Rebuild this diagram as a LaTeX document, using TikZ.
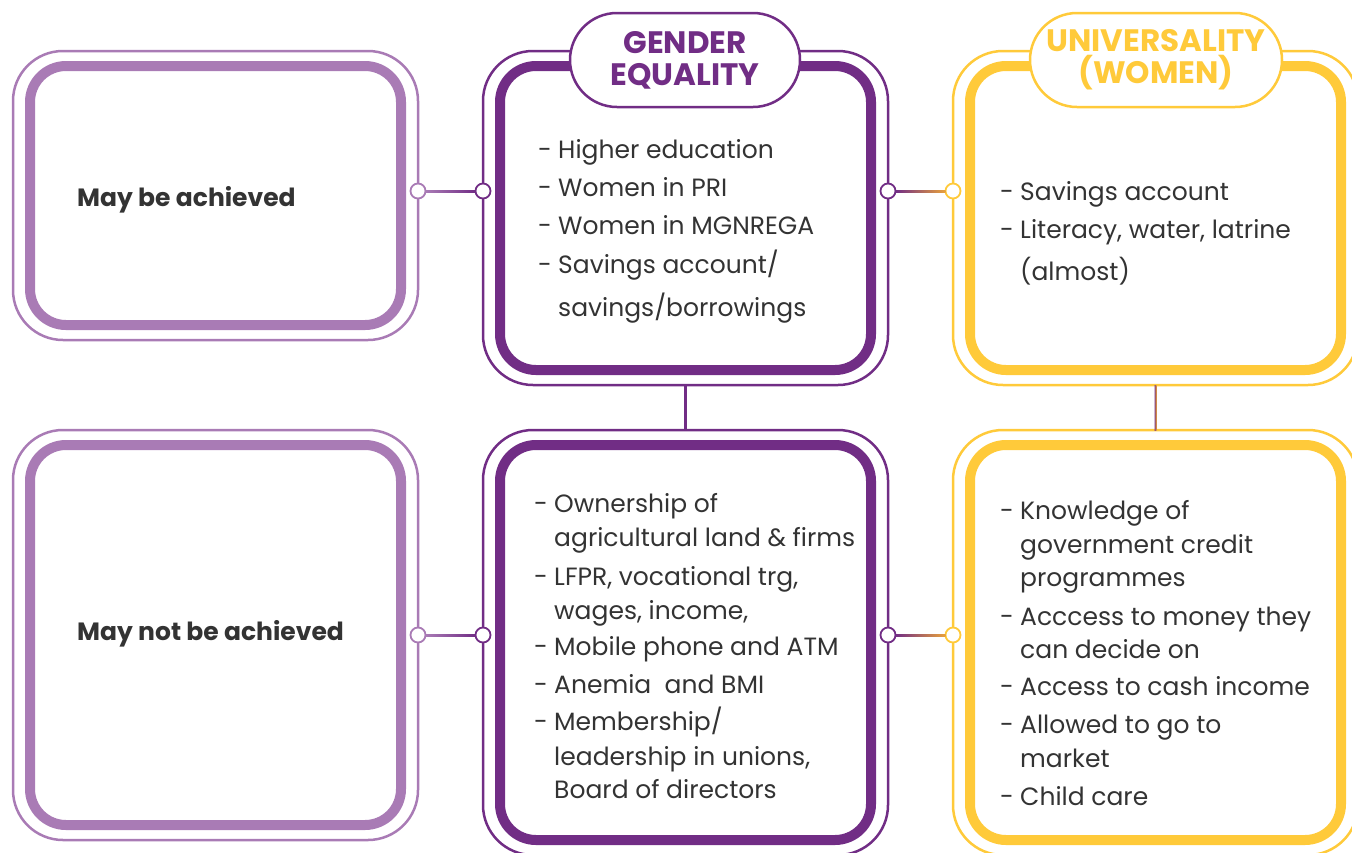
\documentclass[tikz,border=0pt]{standalone}
\usepackage{fontspec}
\setmainfont{Poppins}
\usetikzlibrary{calc}

\definecolor{lpurple}{HTML}{A97BB5}
\definecolor{dpurple}{HTML}{712D85}
\definecolor{gold}{HTML}{FFCA3A}
\definecolor{amber}{HTML}{E9A23B}
\definecolor{txt}{HTML}{333333}

\tikzset{
  outerbox/.style={draw=#1, line width=2.5pt, rounded corners=50pt, minimum width=405pt, inner sep=0pt, outer sep=0pt},
  innerbox/.style={draw=#1, line width=10pt, rounded corners=36pt, minimum width=371pt, inner sep=0pt, outer sep=0pt},
  knob/.style={circle, draw=#1, fill=white, line width=1.8pt, minimum size=15pt, inner sep=0pt, outer sep=0pt},
  pill/.style={draw=#1, fill=white, line width=2.5pt, rounded corners=47pt, minimum height=94pt, inner sep=0pt, text=#1, align=center, font=\fontsize{31}{32}\selectfont\bfseries},
  entry/.style={anchor=base west, inner sep=0pt, text=txt, font=\fontsize{25}{28}\selectfont},
  rowlabel/.style={anchor=base west, inner sep=0pt, text=txt, font=\fontsize{25}{28}\selectfont\bfseries},
}

\begin{document}
\begin{tikzpicture}[x=1pt, y=-1pt]
  \useasboundingbox (0,0) rectangle (1352,852);

  % top row
  \node[outerbox=lpurple, minimum height=289pt] (mayo) at (215.5,195.5) {};
  \node[innerbox=lpurple, minimum height=259pt] (mayi) at (215.5,195.5) {};
  \node[outerbox=dpurple, minimum height=334pt] (gtopo) at (685.5,218) {};
  \node[innerbox=dpurple, minimum height=304pt] (gtopi) at (685.5,218) {};
  \node[outerbox=gold, minimum height=334pt] (utopo) at (1155.5,218) {};
  \node[innerbox=gold, minimum height=304pt] (utopi) at (1155.5,218) {};

  % bottom row
  \node[outerbox=lpurple, minimum height=410pt] (mayno) at (215.5,635) {};
  \node[innerbox=lpurple, minimum height=380pt] (maynoi) at (215.5,635) {};
  \node[outerbox=dpurple, minimum height=425pt] (gboto) at (685.5,642.5) {};
  \node[innerbox=dpurple, minimum height=395pt] (gboti) at (685.5,642.5) {};
  \node[outerbox=gold, minimum height=425pt] (uboto) at (1155.5,642.5) {};
  \node[innerbox=gold, minimum height=395pt] (uboti) at (1155.5,642.5) {};

  % vertical links
  \draw[dpurple, line width=2.5pt] (gtopo.south) -- (gboto.north);
  \shade[left color=dpurple!80!amber, right color=amber] ([xshift=-1pt]utopo.south) rectangle ([xshift=1pt]uboto.north);

  % headers
  \node[pill=dpurple, minimum width=230pt] (gender) at (685,60) {GENDER\\EQUALITY};
  \node[pill=gold, minimum width=252pt] (univ) at (1156,60) {UNIVERSALITY\\(WOMEN)};

  % knobs and horizontal links
  \foreach \r/\y in {t/191, b/635} {
    \node[knob=lpurple] (k1\r) at (418,\y) {};
    \node[knob=dpurple] (k2\r) at (483,\y) {};
    \node[knob=dpurple] (k3\r) at (888,\y) {};
    \node[knob=gold] (k4\r) at (953,\y) {};
    \shade[left color=lpurple, right color=dpurple] ([yshift=-1pt]k1\r.east) rectangle ([yshift=1pt]k2\r.west);
    \shade[left color=dpurple, right color=amber] ([yshift=-1pt]k3\r.east) rectangle ([yshift=1pt]k4\r.west);
  }

  % row labels
  \node[rowlabel] (achieved) at (77,206) {May be achieved};
  \node[rowlabel] (notachieved) at (77,640) {May not be achieved};

  % gender equality, achieved
  \foreach \d/\y/\t [count=\i] in {-/158/Higher education, -/196/Women in PRI, -/234/Women in MGNREGA,
      -/273/{Savings account/}, {}/316/{savings/borrowings}} {
    \node[entry] (gad\i) at (538,\y) {\d};
    \node[entry] (gat\i) at (558,\y) {\t};
  }

  % universality, achieved
  \foreach \d/\y/\t [count=\i] in {-/200/Savings account, -/238/{Literacy, water, latrine}, {}/280/(almost)} {
    \node[entry] (uad\i) at (1000,\y) {\d};
    \node[entry] (uat\i) at (1020,\y) {\t};
  }

  % gender equality, not achieved
  \foreach \d/\y/\t [count=\i] in {-/512/Ownership of, {}/546/agricultural land \& firms,
      -/585/{LFPR, vocational trg,}, {}/619/{wages, income,}, -/655/Mobile phone and ATM,
      -/693/Anemia\ \ and BMI, -/730/{Membership/}, {}/765/{leadership in unions,}, {}/798/Board of directors} {
    \node[entry] (gnd\i) at (534,\y) {\d};
    \node[entry] (gnt\i) at (554,\y) {\t};
  }

  % universality, not achieved
  \foreach \d/\y/\t [count=\i] in {-/519/Knowledge of, {}/553/government credit, {}/586/programmes,
      -/625/Acccess to money they, {}/658/can decide on, -/695/Access to cash income,
      -/733/Allowed to go to, {}/767/market, -/805/Child care} {
    \node[entry] (und\i) at (1000,\y) {\d};
    \node[entry] (unt\i) at (1020,\y) {\t};
  }
\end{tikzpicture}
\end{document}
